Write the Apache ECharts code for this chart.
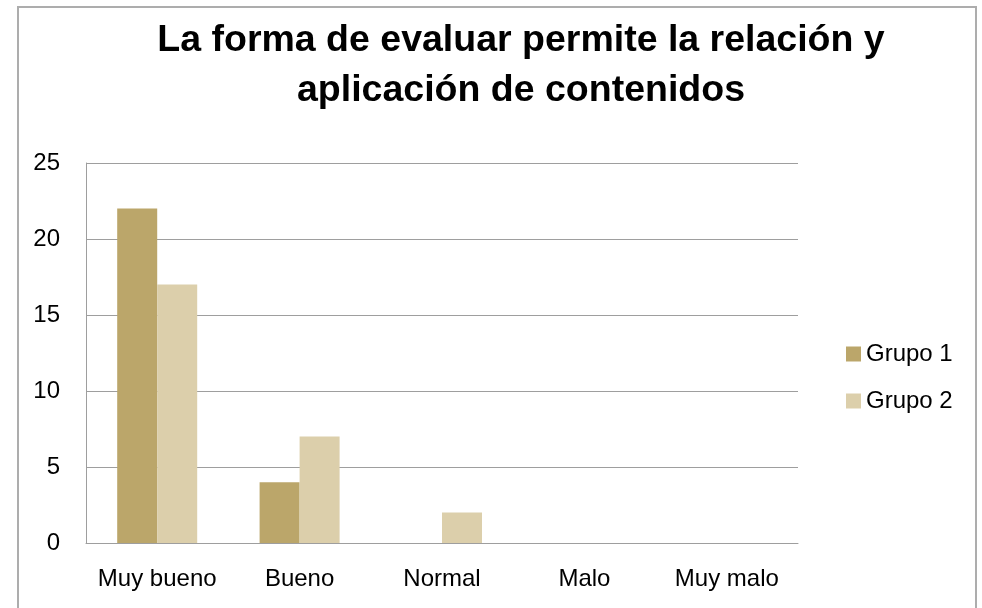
<!DOCTYPE html>
<html>
<head>
<meta charset="utf-8">
<script src="https://cdn.jsdelivr.net/npm/echarts@6/dist/echarts.min.js"></script>
<style>
html, body { margin: 0; padding: 0; background: #fff; overflow: hidden; }
#frame { position: absolute; left: 17px; top: 6px; width: 960px; height: 620px; border: 2px solid #adadad; box-sizing: border-box; }
#main { position: absolute; left: 0; top: 0; width: 982px; height: 608px; }
</style>
</head>
<body>
<div id="frame"></div>
<div id="main"></div>
<script>
var categories = ['Muy bueno', 'Bueno', 'Normal', 'Malo', 'Muy malo'];
var grupo1 = [22, 4, 0, 0, 0];
var grupo2 = [17, 7, 2, 0, 0];
var seriesNames = ['Grupo 1', 'Grupo 2'];

var myChart = echarts.init(document.getElementById('main'));
var font = 'Liberation Sans';
var option = {
	backgroundColor: 'transparent',
	animation: false,
	title: {
		text: 'La forma de evaluar permite la relación y\naplicación de contenidos',
		left: 516,
		textAlign: 'center',
		top: 11,
		textStyle: {
			fontFamily: font,
			fontSize: 37.5,
			fontWeight: 'bold',
			color: '#000',
			lineHeight: 50
		}
	},
	legend: {
		orient: 'vertical',
		left: 841,
		top: 337,
		itemWidth: 15,
		itemHeight: 15,
		itemGap: 23,
		icon: 'rect',
		data: seriesNames,
		textStyle: { fontFamily: font, fontSize: 24, color: '#000' }
	},
	grid: {
		left: 86,
		right: 184,
		top: 163,
		bottom: 65
	},
	xAxis: {
		type: 'category',
		data: categories,
		axisTick: { show: false },
		axisLine: { lineStyle: { color: '#9e9e9e', width: 1 } },
		axisLabel: { interval: 0, fontFamily: font, fontSize: 24, color: '#000', margin: 24 }
	},
	yAxis: {
		type: 'value',
		min: 0,
		max: 25,
		interval: 5,
		axisLine: { show: true, lineStyle: { color: '#9e9e9e', width: 1 } },
		axisTick: { show: false },
		splitLine: { lineStyle: { color: '#9e9e9e', width: 1 } },
		axisLabel: { fontFamily: font, fontSize: 24, color: '#000', margin: 26 }
	},
	series: [
		{
			name: seriesNames[0],
			type: 'bar',
			data: grupo1,
			barWidth: 40,
			barGap: '0%',
			itemStyle: { color: '#bba66a' }
		},
		{
			name: seriesNames[1],
			type: 'bar',
			data: grupo2,
			barWidth: 40,
			barGap: '0%',
			itemStyle: { color: '#dccfab' }
		}
	]
};
myChart.setOption(option);
</script>
</body>
</html>
